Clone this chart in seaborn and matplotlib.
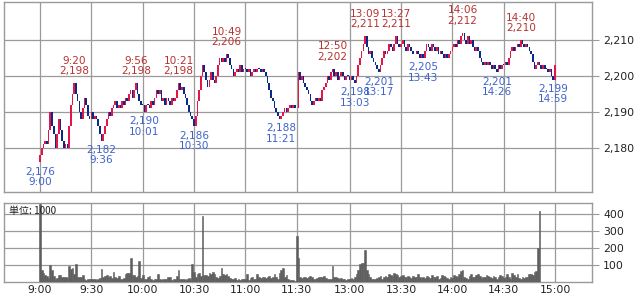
import numpy as np
import pandas as pd
import matplotlib
matplotlib.use("Agg")
import matplotlib.pyplot as plt
import seaborn as sns

# ---------------- data ----------------
first_open = 2176
morning_close = [
    2178, 2180, 2181, 2182, 2181, 2185, 2190, 2186, 2184, 2180,
    2184, 2188, 2185, 2182, 2180, 2181, 2180, 2186, 2192, 2195,
    2198, 2195, 2193, 2190, 2188, 2191, 2194, 2192, 2189, 2188,
    2190, 2188, 2189, 2188, 2186, 2184, 2182, 2184, 2186, 2188,
    2190, 2189, 2191, 2192, 2193, 2191, 2192, 2191, 2193, 2192,
    2194, 2193, 2195, 2196, 2194, 2196, 2198, 2195, 2193, 2192,
    2192, 2190, 2192, 2192, 2191, 2193, 2192, 2194, 2196, 2195,
    2196, 2193, 2194, 2192, 2194, 2193, 2192, 2194, 2193, 2194,
    2196, 2198, 2196, 2197, 2195, 2194, 2192, 2190, 2189, 2188,
    2186, 2189, 2193, 2196, 2200, 2203, 2201, 2199, 2197, 2199,
    2201, 2199, 2198, 2200, 2203, 2205, 2204, 2205, 2204, 2206,
    2205, 2203, 2202, 2200, 2201, 2202, 2201, 2203, 2201, 2202,
    2202, 2201, 2202, 2200, 2201, 2202, 2201, 2202, 2202, 2201,
    2202, 2201, 2200, 2198, 2196, 2194, 2193, 2191, 2190, 2189,
    2188, 2189, 2190, 2191, 2190, 2191, 2192, 2191, 2192, 2191,
    2191,
]
afternoon_close = [
    2201, 2199, 2200, 2198, 2197, 2196, 2195, 2193, 2192, 2193,
    2194, 2193, 2194, 2193, 2196, 2197, 2198, 2200, 2199, 2201,
    2202, 2200, 2201, 2199, 2200, 2201, 2200, 2199, 2200, 2200,
    2199, 2200, 2199, 2198, 2200, 2203, 2205, 2207, 2209, 2211,
    2208, 2206, 2207, 2205, 2204, 2203, 2202, 2201, 2203, 2205,
    2207, 2206, 2207, 2209, 2208, 2207, 2209, 2211, 2209, 2208,
    2209, 2210, 2208, 2207, 2209, 2208, 2207, 2206, 2206, 2207,
    2206, 2205, 2206, 2205, 2207, 2209, 2208, 2207, 2209, 2208,
    2207, 2208, 2206, 2207, 2206, 2205, 2206, 2205, 2206, 2207,
    2208, 2209, 2208, 2210, 2209, 2211, 2212, 2210, 2209, 2211,
    2209, 2210, 2208, 2207, 2208, 2207, 2205, 2204, 2203, 2204,
    2203, 2204, 2203, 2202, 2203, 2202, 2201, 2203, 2202, 2203,
    2203, 2204, 2203, 2205, 2207, 2208, 2207, 2208, 2209, 2208,
    2210, 2209, 2208, 2209, 2208, 2207, 2206, 2204, 2202, 2203,
    2204, 2203, 2202, 2203, 2202, 2202, 2201, 2202, 2200, 2199,
    2203,
]
volume = [
    460, 70, 55, 40, 35, 25, 100, 70, 35, 20,
    25, 40, 42, 30, 28, 30, 25, 94, 75, 80,
    45, 105, 30, 28, 32, 40, 15, 12, 18, 20,
    15, 20, 18, 12, 20, 25, 75, 30, 38, 40,
    32, 35, 25, 60, 30, 22, 35, 20, 18, 25,
    50, 55, 55, 140, 40, 40, 30, 35, 125, 25,
    40, 20, 15, 30, 38, 18, 12, 15, 20, 45,
    15, 12, 15, 20, 18, 30, 28, 12, 20, 15,
    35, 70, 20, 15, 18, 12, 15, 25, 20, 105,
    60, 30, 50, 55, 35, 386, 40, 40, 35, 55,
    50, 60, 48, 30, 25, 35, 80, 45, 40, 50,
    35, 25, 20, 15, 22, 10, 18, 12, 20, 15,
    20, 45, 10, 25, 28, 18, 20, 45, 28, 25,
    30, 28, 25, 30, 38, 25, 30, 45, 30, 20,
    55, 70, 80, 28, 40, 15, 12, 10, 10, 8,
    270, 140, 30, 25, 28, 30, 25, 30, 35, 28,
    15, 20, 25, 32, 28, 30, 35, 25, 20, 15,
    18, 96, 30, 28, 25, 20, 22, 18, 15, 12,
    20, 18, 25, 15, 30, 45, 70, 105, 110, 110,
    190, 70, 45, 30, 20, 18, 15, 25, 30, 35,
    20, 28, 35, 30, 45, 40, 35, 55, 45, 40,
    30, 35, 40, 28, 32, 35, 30, 25, 38, 30,
    28, 45, 30, 22, 28, 25, 35, 30, 25, 40,
    30, 28, 35, 20, 25, 40, 35, 30, 25, 20,
    30, 25, 40, 35, 30, 45, 65, 70, 30, 25,
    20, 35, 45, 30, 28, 40, 45, 35, 25, 30,
    28, 40, 35, 30, 25, 35, 30, 20, 28, 40,
    35, 25, 30, 45, 28, 20, 55, 40, 30, 50,
    25, 18, 30, 25, 28, 30, 50, 45, 40, 60,
    65, 200,
]
volume_last = 420
x_tick_labels = ["9:00", "9:30", "10:00", "10:30", "11:00", "11:30",
                 "13:00", "13:30", "14:00", "14:30", "15:00"]
price_ticks = [2180, 2190, 2200, 2210]
volume_ticks = [100, 200, 300, 400]
high_marks = [("9:20", 2198), ("9:56", 2198), ("10:21", 2198), ("10:49", 2206),
              ("12:50", 2202), ("13:09", 2211), ("13:27", 2211),
              ("14:06", 2212), ("14:40", 2210)]
low_marks = [("9:00", 2176), ("9:36", 2182), ("10:01", 2190), ("10:30", 2186),
             ("11:21", 2188), ("13:03", 2198), ("13:17", 2201), ("13:43", 2205),
             ("14:26", 2201), ("14:59", 2199)]
unit_label = "単位: 1000"

# ---------------- helpers ----------------
def t2i(t):
    h, m = map(int, t.split(":"))
    mins = h * 60 + m
    if mins <= 690:          # morning session 9:00-11:30
        return mins - 540
    return mins - 750 + 151  # afternoon session from 12:30


closes = morning_close + afternoon_close
n = len(closes)
opens = [first_open] + closes[:-1]
df = pd.DataFrame({"idx": np.arange(n), "open": opens, "close": closes})
vol_all = volume + [volume_last]
vdf = pd.DataFrame({"idx": np.arange(len(vol_all)), "vol": vol_all})

# ---------------- style ----------------
sns.set_style("white")
plt.rcParams["font.family"] = ["DejaVu Sans", "Noto Sans CJK JP"]

RED = "#e2164a"
BLUE = "#0b2a88"
GRID = "#9a9a9a"
LAB_RED = "#b83232"
LAB_BLUE = "#3f63cc"
VOL = "#5e5e5e"

fig = plt.figure(figsize=(6.37, 2.97), dpi=100)
W, H = 637, 297
axp = fig.add_axes([4 / W, 1 - 192 / H, (592 - 4) / W, (192 - 2) / H])
axv = fig.add_axes([4 / W, 1 - 282 / H, (592 - 4) / W, (282 - 203) / H])

PX = 515 / 301.0
xmin = (4 - 40) / PX
xmax = (592 - 40) / PX
tick_pos = [t2i(t) for t in x_tick_labels]

# ---- price candles ----
up = df["close"] >= df["open"]
bottoms = np.minimum(df["open"], df["close"])
heights = np.abs(df["close"] - df["open"]).astype(float)
heights[heights == 0] = 0.25
colors = np.where(up & (df["close"] != df["open"]), RED, BLUE)
axp.bar(df["idx"], heights, bottom=bottoms, width=0.95, color=colors,
        linewidth=0, zorder=3)

axp.set_xlim(xmin, xmax)
axp.set_ylim(2200 - 116 / 3.6, 2200 + 74 / 3.6)
axp.set_yticks(price_ticks)
axp.set_yticklabels([f"{v:,}" for v in price_ticks])
axp.set_xticks(tick_pos)
axp.set_xticklabels([])
axp.grid(True, color=GRID, linewidth=0.9, zorder=0)
axp.yaxis.tick_right()
axp.tick_params(axis="y", which="both", right=True, left=False, length=5,
                color=GRID, labelsize=7.8, pad=3, labelcolor="#222222")
axp.tick_params(axis="x", length=0)

fs = 7.6
for t, v in high_marks:
    axp.annotate(f"{t}\n{v:,}", (t2i(t), v), xytext=(0, 5),
                 textcoords="offset points", ha="center", va="bottom",
                 fontsize=fs, color=LAB_RED, linespacing=1.05, zorder=5)
for t, v in low_marks:
    axp.annotate(f"{v:,}\n{t}", (t2i(t), v), xytext=(0, -3),
                 textcoords="offset points", ha="center", va="top",
                 fontsize=fs, color=LAB_BLUE, linespacing=1.05, zorder=5)

# ---- volume ----
sns.barplot(data=vdf, x="idx", y="vol", native_scale=True, ax=axv,
            color=VOL, saturation=1, width=1.0, linewidth=0.4,
            edgecolor=VOL, zorder=3)
axv.set_xlim(xmin, xmax)
axv.set_ylim(0, 79 / 0.17)
axv.set_yticks(volume_ticks)
axv.set_xticks(tick_pos)
axv.set_xticklabels(x_tick_labels)
axv.set_xlabel("")
axv.set_ylabel("")
axv.grid(True, color=GRID, linewidth=0.9, zorder=0)
axv.yaxis.tick_right()
axv.tick_params(axis="y", right=True, left=False, length=5, color=GRID,
                labelsize=7.8, pad=3, labelcolor="#222222")
axv.tick_params(axis="x", length=0, labelsize=7.8, pad=2, labelcolor="#222222")
axv.text(0.008, 0.96, unit_label, transform=axv.transAxes, ha="left", va="top",
         fontsize=7.2, color="#222222",
         family=["Noto Sans CJK JP", "DejaVu Sans"], zorder=6)

for ax in (axp, axv):
    ax.set_axisbelow(True)
    for s in ax.spines.values():
        s.set_visible(True)
        s.set_color(GRID)
        s.set_linewidth(1.0)

fig.savefig("out.png", dpi=100)
